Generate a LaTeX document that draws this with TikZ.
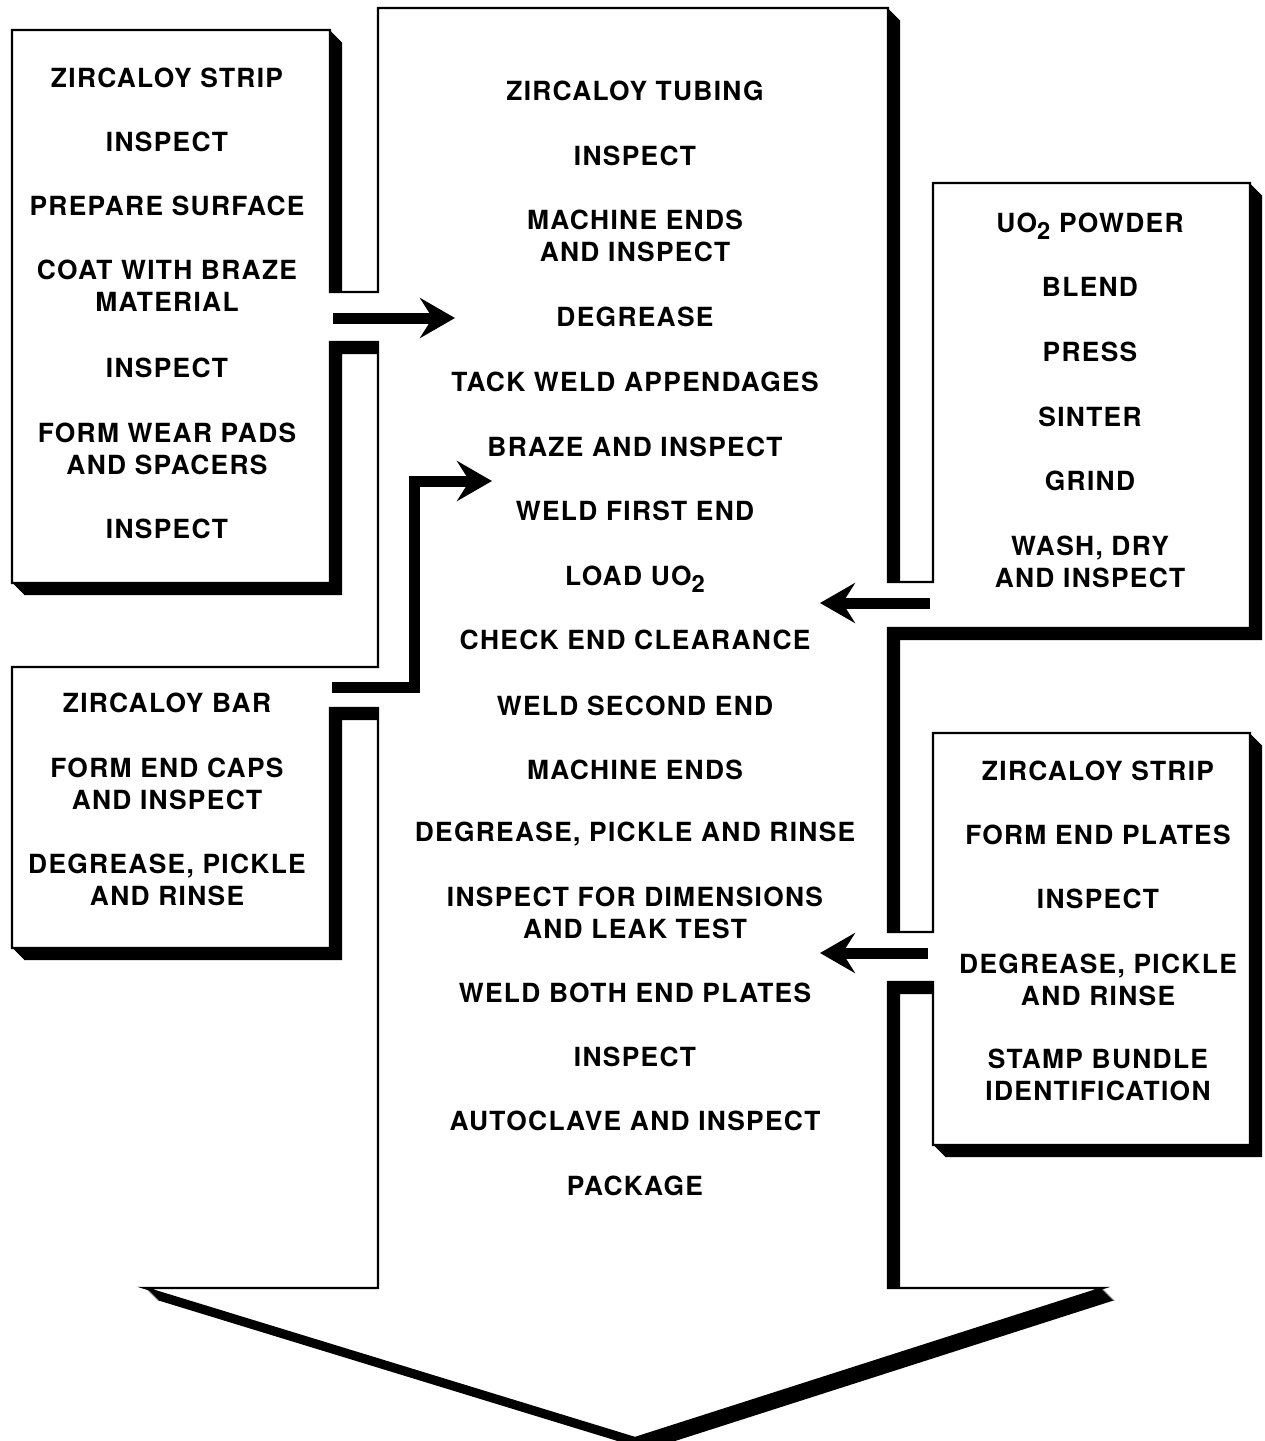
\documentclass[tikz,border=0pt]{standalone}
\usepackage{fontspec}
\newfontfamily\heros[LetterSpace=5]{TeX Gyre Heros}
\usetikzlibrary{arrows.meta}
\newcommand{\uotwo}{UO\raisebox{-0.5ex}[\height][0pt]{\fontsize{13.5}{13.5}\selectfont 2}}
\newcommand{\flowshape}{(378,8) -- (888,8) -- (888,582) -- (933,582) -- (933,183) -- (1250,183) -- (1250,628) -- (888,628) -- (888,932) -- (933,932) -- (933,733) -- (1250,733) -- (1250,1145) -- (933,1145) -- (933,982) -- (888,982) -- (888,1288) -- (1103,1288) -- (635,1438) -- (145,1288) -- (378,1288) -- (378,708) -- (330,708) -- (330,948) -- (12,948) -- (12,667) -- (378,667) -- (378,342) -- (330,342) -- (330,583) -- (12,583) -- (12,30) -- (330,30) -- (330,292) -- (378,292) -- cycle}

\tikzset{
  lbl/.style={align=center, inner sep=0pt, font=\heros\bfseries\fontsize{15}{18.2}\selectfont},
  feed/.style={line width=0.22cm, -{Stealth[length=0.7cm, width=0.8cm, inset=0.25cm]}},
}

\begin{document}
\begin{tikzpicture}[x=0.02cm, y=-0.02cm]
\useasboundingbox (0,0) rectangle (1265,1441);

%shadow
\foreach \s in {1,...,12}
  \fill[black, shift={(\s,\s)}] \flowshape;

%outline
\filldraw[fill=white, draw=black, line width=1.3pt, line join=miter] \flowshape;

%main line
\node[lbl] (mid1) at (635,91) {ZIRCALOY TUBING};
\node[lbl] (mid2) at (635,156) {INSPECT};
\node[lbl] (mid3) at (635,236) {MACHINE ENDS\\AND INSPECT};
\node[lbl] (mid4) at (635,317) {DEGREASE};
\node[lbl] (mid5) at (635,382) {TACK WELD APPENDAGES};
\node[lbl] (mid6) at (635,447) {BRAZE AND INSPECT};
\node[lbl] (mid7) at (635,511) {WELD FIRST END};
\node[lbl] (mid8) at (635,576) {LOAD \uotwo};
\node[lbl] (mid9) at (635,640) {CHECK END CLEARANCE};
\node[lbl] (mid10) at (635,706) {WELD SECOND END};
\node[lbl] (mid11) at (635,770) {MACHINE ENDS};
\node[lbl] (mid12) at (635,834) {DEGREASE, PICKLE AND RINSE};
\node[lbl] (mid13) at (635,913) {INSPECT FOR DIMENSIONS\\AND LEAK TEST};
\node[lbl] (mid14) at (635,993) {WELD BOTH END PLATES};
\node[lbl] (mid15) at (635,1057) {INSPECT};
\node[lbl] (mid16) at (635,1121) {AUTOCLAVE AND INSPECT};
\node[lbl] (mid17) at (635,1186) {PACKAGE};

%strip for wear pads
\node[lbl] (pad1) at (167,78) {ZIRCALOY STRIP};
\node[lbl] (pad2) at (167,142) {INSPECT};
\node[lbl] (pad3) at (167,206) {PREPARE SURFACE};
\node[lbl] (pad4) at (167,286) {COAT WITH BRAZE\\MATERIAL};
\node[lbl] (pad5) at (167,368) {INSPECT};
\node[lbl] (pad6) at (167,449) {FORM WEAR PADS\\AND SPACERS};
\node[lbl] (pad7) at (167,529) {INSPECT};

%bar for end caps
\node[lbl] (cap1) at (167,703) {ZIRCALOY BAR};
\node[lbl] (cap2) at (167,784) {FORM END CAPS\\AND INSPECT};
\node[lbl] (cap3) at (167,880) {DEGREASE, PICKLE\\AND RINSE};

%pellets
\node[lbl] (pel1) at (1090,223) {\uotwo{} POWDER};
\node[lbl] (pel2) at (1090,287) {BLEND};
\node[lbl] (pel3) at (1090,352) {PRESS};
\node[lbl] (pel4) at (1090,417) {SINTER};
\node[lbl] (pel5) at (1090,481) {GRIND};
\node[lbl] (pel6) at (1090,562) {WASH, DRY\\AND INSPECT};

%strip for end plates
\node[lbl] (plt1) at (1098,771) {ZIRCALOY STRIP};
\node[lbl] (plt2) at (1098,835) {FORM END PLATES};
\node[lbl] (plt3) at (1098,899) {INSPECT};
\node[lbl] (plt4) at (1098,980) {DEGREASE, PICKLE\\AND RINSE};
\node[lbl] (plt5) at (1098,1075) {STAMP BUNDLE\\IDENTIFICATION};

%feed arrows
\coordinate (padout) at (333,318);
\coordinate (padin) at (455,318);
\coordinate (capout) at (332,687);
\coordinate (capbend) at (414,687);
\coordinate (capin) at (492,481);
\coordinate (pelout) at (930,603);
\coordinate (pelin) at (820,603);
\coordinate (pltout) at (928,953);
\coordinate (pltin) at (820,953);

\draw[feed] (padout) -- (padin);
\draw[feed] (capout) -- (capbend) |- (capin);
\draw[feed] (pelout) -- (pelin);
\draw[feed] (pltout) -- (pltin);
\end{tikzpicture}
\end{document}
